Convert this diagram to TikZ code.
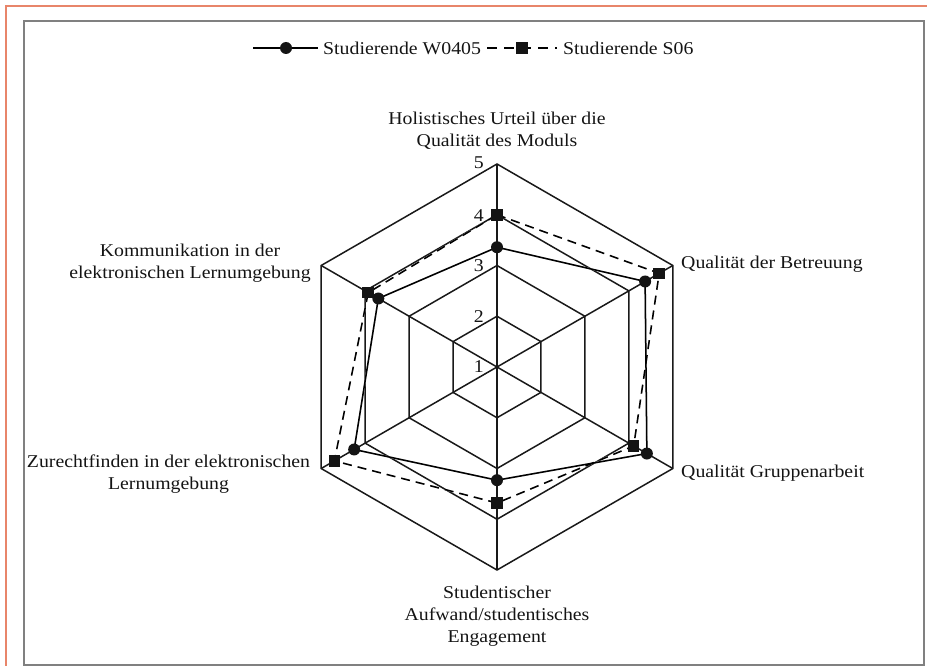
\documentclass[tikz,border=0pt]{standalone}
\usepackage{fontspec}
\setmainfont[FakeStretch=1.1]{Liberation Serif}
\usetikzlibrary{calc}
\definecolor{framegray}{RGB}{128,128,128}
\definecolor{borderorange}{RGB}{232,133,106}
\begin{document}
\begin{tikzpicture}[x=1pt,y=1pt,
  every node/.style={font=\fontsize{18}{22}\selectfont, inner sep=0pt, text=black!92},
  gridline/.style={line width=1.5pt, black!90},
  wline/.style={line width=1.5pt, black},
  sline/.style={line width=1.5pt, black, dash pattern=on 9pt off 6pt},
  shadowline/.style={line width=1.6pt, black!22},
  dotmark/.style={circle, fill=black!92, minimum size=12pt, inner sep=0pt},
  sqmark/.style={rectangle, fill=black!92, minimum size=11.5pt, inner sep=0pt},
  axislabel/.style={align=center},
  ticklabel/.style={anchor=east}]
\useasboundingbox (0,0) rectangle (927,-666);
% outer borders
\draw[borderorange, line width=1.2pt] (6,-670) -- (6,-6) -- (930,-6);
\draw[framegray, line width=1.8pt] (24,-21) rectangle (924,-665);

% legend
\coordinate (la) at (253,-48);
\coordinate (lb) at (318,-48);
\draw[wline] (la) -- (lb);
\node[dotmark] (lw) at (286,-48) {};
\node[anchor=west] (ltw) at (323,-48) {Studierende W0405};
\coordinate (lc) at (487,-48);
\coordinate (ld) at (557,-48);
\draw[sline, dash pattern=on 10pt off 7pt] (lc) -- (ld);
\node[sqmark] (ls) at (522,-48) {};
\node[anchor=west] (lts) at (563,-48) {Studierende S06};

\begin{scope}[shift={(497,-367)}]
  \def\u{50.75pt}
  % grid hexagons
  \foreach \r in {1,2,3,4} {
    \draw[gridline] (90:\r*\u) -- (30:\r*\u) -- (-30:\r*\u) -- (-90:\r*\u)
      -- (210:\r*\u) -- (150:\r*\u) -- cycle;
  }
  \coordinate (ctr) at (0,0);
  \foreach \a/\n in {90/a1,30/a2,-30/a3,-90/a4,210/a5,150/a6} {
    \coordinate (\n) at (\a:4*\u);
    \draw[gridline] (ctr) -- (\n);
  }
  % tick labels
  \node[ticklabel] (t1) at (-13,0) {1};
  \node[ticklabel] (t2) at (-13,1*50.75) {2};
  \node[ticklabel] (t3) at (-13,2*50.75) {3};
  \node[ticklabel] (t4) at (-13,3*50.75-1) {4};
  \node[ticklabel] (t5) at (-13,4*50.75+1) {5};

  % data W0405
  \coordinate (w1) at (90:{(3.36-1)*\u});
  \coordinate (w2) at (30:{(4.37-1)*\u});
  \coordinate (w3) at (-30:{(4.41-1)*\u});
  \coordinate (w4) at (-90:{(3.23-1)*\u});
  \coordinate (w5) at (210:{(4.25-1)*\u});
  \coordinate (w6) at (150:{(3.70-1)*\u});
  % data S06
  \coordinate (s1) at (90:{(4.00-1)*\u});
  \coordinate (s2) at (30:{(4.69-1)*\u});
  \coordinate (s3) at (-30:{(4.11-1)*\u});
  \coordinate (s4) at (-90:{(3.68-1)*\u});
  \coordinate (s5) at (210:{(4.70-1)*\u});
  \coordinate (s6) at (150:{(3.93-1)*\u});

  % shadows
  \begin{scope}[shift={(1.5,-2.5)}]
    \draw[shadowline] (w1) -- (w2) -- (w3) -- (w4) -- (w5) -- (w6) -- cycle;
    \draw[shadowline, dash pattern=on 9pt off 6pt] (s1) -- (s2) -- (s3) -- (s4) -- (s5) -- (s6) -- cycle;
  \end{scope}

  \draw[wline] (w1) -- (w2) -- (w3) -- (w4) -- (w5) -- (w6) -- cycle;
  \draw[sline] (s1) -- (s2) -- (s3) -- (s4) -- (s5) -- (s6) -- cycle;
  \foreach \i in {1,...,6} {
    \node[sqmark] (ms\i) at (s\i) {};
    \node[dotmark] (mw\i) at (w\i) {};
  }
\end{scope}

% axis labels
\node[axislabel] (lab1) at (497,-131) {Holistisches Urteil über die\\Qualität des Moduls};
\node[anchor=west] (lab2) at (681,-264) {Qualität der Betreuung};
\node[anchor=west] (lab3) at (681,-473) {Qualität Gruppenarbeit};
\node[axislabel] (lab4) at (497,-616) {Studentischer\\Aufwand/studentisches\\Engagement};
\node[axislabel] (lab5) at (168.5,-474) {Zurechtfinden in der elektronischen\\Lernumgebung};
\node[axislabel] (lab6) at (190,-263) {Kommunikation in der\\elektronischen Lernumgebung};
\end{tikzpicture}
\end{document}
